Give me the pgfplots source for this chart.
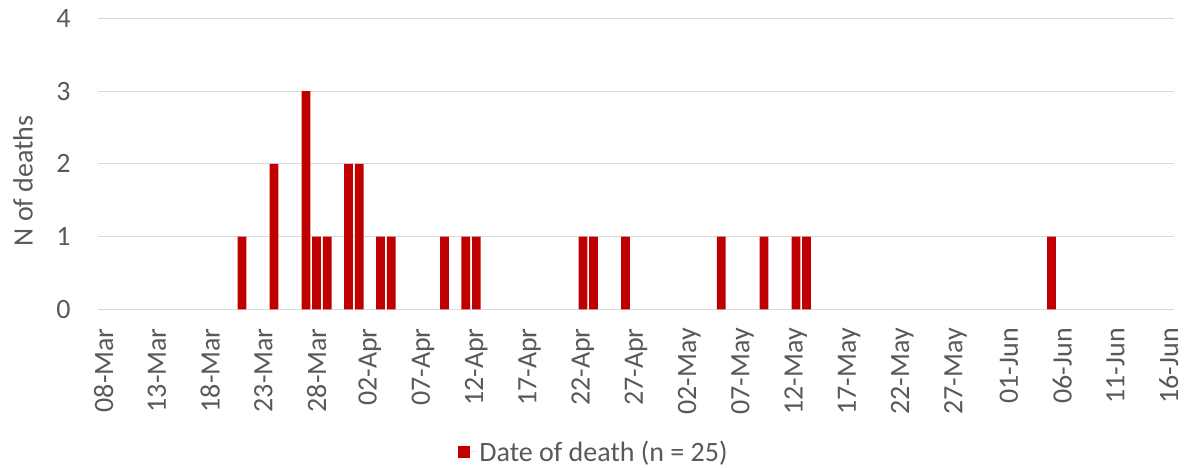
\documentclass[border=0pt]{standalone}
\usepackage{fontspec}
\setmainfont{Carlito}
\usepackage{pgfplots}
\pgfplotsset{compat=1.18}
\definecolor{barred}{HTML}{C00000}
\definecolor{txtgray}{HTML}{595959}
\definecolor{gridgray}{HTML}{D9D9D9}
\begin{document}
\begin{tikzpicture}[x=1pt,y=1pt]
\useasboundingbox (0,0) rectangle (891.75,352.5);
\begin{axis}[
  at={(73.7pt,120.5pt)}, anchor=south west,
  scale only axis, width=806.8pt, height=218.3pt,
  xmin=-0.5, xmax=100.5, ymin=0, ymax=4,
  ybar, bar width=0.82, bar shift=0pt,
  axis line style={draw=none},
  major tick length=0pt,
  ymajorgrids, grid style={gridgray, line width=0.75pt},
  ytick={0,1,2,3,4},
  xtick={0,5,...,100},
  xticklabels={08-Mar,13-Mar,18-Mar,23-Mar,28-Mar,02-Apr,07-Apr,12-Apr,17-Apr,22-Apr,27-Apr,02-May,07-May,12-May,17-May,22-May,27-May,01-Jun,06-Jun,11-Jun,16-Jun},
  /pgf/number format/assume math mode=true,
  ticklabel style={font=\fontsize{21}{25}\selectfont, text=txtgray, inner sep=0pt},
  xticklabel style={rotate=90, anchor=east},
  xticklabel shift=14pt,
  yticklabel style={anchor=east},
  yticklabel shift=20.5pt,
  ylabel={N of deaths},
  ylabel style={at={(axis description cs:-0.07,0.441)}, anchor=center, font=\fontsize{21}{25}\selectfont, text=txtgray},
  legend style={at={(axis description cs:0.461,-0.49)}, anchor=center, draw=none, fill=none, font=\fontsize{21}{25}\selectfont, text=txtgray},
]
\addplot[fill=barred, draw=none, legend image code/.code={\fill[barred] (0pt,-4.5pt) rectangle (9pt,4.5pt); \path (0pt,0pt) -- (14pt,0pt);}] coordinates {
(13,1) (16,2) (19,3) (20,1) (21,1) (23,2) (24,2) (26,1) (27,1)
(32,1) (34,1) (35,1) (45,1) (46,1) (49,1) (58,1) (62,1) (65,1) (66,1) (89,1)
};
\addlegendentry{Date of death (n = 25)}
\end{axis}
\end{tikzpicture}
\end{document}
